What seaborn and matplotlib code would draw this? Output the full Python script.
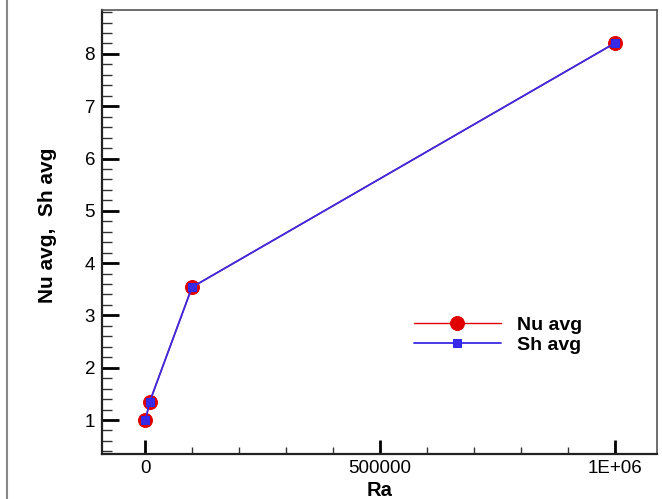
import matplotlib
matplotlib.use("Agg")
import matplotlib.pyplot as plt
from matplotlib.lines import Line2D
from matplotlib.ticker import MultipleLocator, FixedLocator
import seaborn as sns
import pandas as pd

ra = [1000, 10000, 100000, 1000000]
nu_avg = [1.00, 1.35, 3.54, 8.21]
sh_avg = [1.00, 1.35, 3.54, 8.21]
x_ticks = [0, 500000, 1000000]
x_tick_labels = ["0", "500000", "1E+06"]

sns.set_style("white")
plt.rcParams["font.family"] = ["Liberation Sans", "DejaVu Sans"]
plt.rcParams["text.color"] = "black"
plt.rcParams["axes.labelcolor"] = "black"
plt.rcParams["xtick.color"] = "black"
plt.rcParams["ytick.color"] = "black"

df = pd.DataFrame({"Ra": ra * 2, "val": nu_avg + sh_avg,
                   "series": ["Nu avg"] * 4 + ["Sh avg"] * 4})

fig = plt.figure(figsize=(6.62, 4.99), dpi=100)
ax = fig.add_axes([102 / 662, 1 - 454 / 499, (657 - 102) / 662, (454 - 10) / 499])

sns.lineplot(data=df[df.series == "Nu avg"], x="Ra", y="val", ax=ax, color="#e00000",
             marker="o", markersize=10, markeredgecolor="#e00000", linewidth=1,
             label="Nu avg")
sns.lineplot(data=df[df.series == "Sh avg"], x="Ra", y="val", ax=ax, color="#3a2ae8",
             marker="s", markersize=5.5, markeredgecolor="#2a2af0", linewidth=1.3,
             label="Sh avg")

ax.set_xlim(-91500, 1089000)
ax.set_ylim(0.35, 8.84)
ax.xaxis.set_major_locator(FixedLocator(x_ticks))
ax.set_xticklabels(x_tick_labels)
ax.xaxis.set_minor_locator(MultipleLocator(100000))
ax.yaxis.set_major_locator(MultipleLocator(1))
ax.yaxis.set_minor_locator(MultipleLocator(0.2))
ax.tick_params(which="both", bottom=True, left=True, top=False, right=False)
ax.tick_params(which="major", direction="in", length=10, width=2, labelsize=13.5, color="black")
ax.tick_params(which="minor", direction="in", length=5, width=1, color="#333333")
ax.tick_params(axis="x", which="major", pad=4)
ax.tick_params(axis="y", which="major", length=12, pad=5)
ax.tick_params(axis="y", which="minor", length=7)

for s in ["left", "bottom"]:
    ax.spines[s].set_linewidth(1.6)
    ax.spines[s].set_color("#222222")
for s in ["top", "right"]:
    ax.spines[s].set_linewidth(1.2)
    ax.spines[s].set_color("#555555")

ax.set_xlabel("Ra", fontsize=14.5, fontweight="bold", labelpad=3)
ax.set_ylabel("Nu avg,  Sh avg", fontsize=15, fontweight="bold", labelpad=20)
ax.yaxis.label.set_y(0.515)

leg = ax.legend(loc="upper left", bbox_to_anchor=(0.53, 0.35), frameon=False,
                handlelength=4.5, prop={"weight": "bold", "size": 14},
                handletextpad=0.8, labelspacing=0.15)

fig.add_artist(Line2D([7 / 662, 7 / 662], [0, 1], color="#888888", linewidth=1.5,
                      transform=fig.transFigure))

fig.savefig("out.png", dpi=100)
